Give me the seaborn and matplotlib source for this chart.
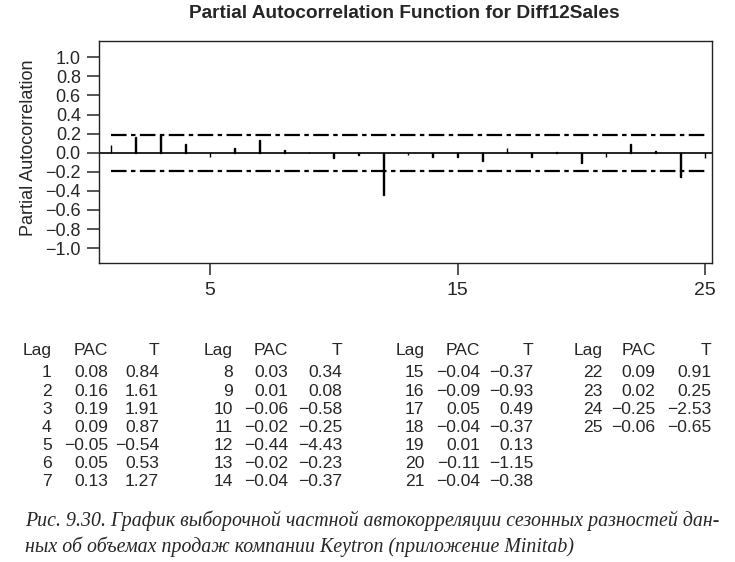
import numpy as np
import pandas as pd
import seaborn as sns
import matplotlib
matplotlib.use("Agg")
import matplotlib.pyplot as plt

lags = list(range(1, 26))
pac = [0.08, 0.16, 0.19, 0.09, -0.05, 0.05, 0.13, 0.03, 0.01, -0.06,
       -0.02, -0.44, -0.02, -0.04, -0.04, -0.09, 0.05, -0.04, 0.01, -0.11,
       -0.04, 0.09, 0.02, -0.25, -0.06]
t_vals = [0.84, 1.61, 1.91, 0.87, -0.54, 0.53, 1.27, 0.34, 0.08, -0.58,
          -0.25, -4.43, -0.23, -0.37, -0.37, -0.93, 0.49, -0.37, 0.13, -1.15,
          -0.38, 0.91, 0.25, -2.53, -0.65]
conf_limit = 0.19
y_ticks = [-1.0, -0.8, -0.6, -0.4, -0.2, 0.0, 0.2, 0.4, 0.6, 0.8, 1.0]
x_ticks = [5, 15, 25]

title = "Partial Autocorrelation Function for Diff12Sales"
ylabel = "Partial Autocorrelation"
caption = ["Рис. 9.30. График выборочной частной автокорреляции сезонных разностей дан-",
           "ных об объемах продаж компании Keytron (приложение Minitab)"]

sns.set_style("ticks")
plt.rcParams['font.family'] = ['Liberation Sans', 'DejaVu Sans']

W, H = 735, 562
fig = plt.figure(figsize=(W / 100, H / 100), dpi=100)

def fx(x):
    return x / W

def fy(y):
    return 1 - y / H

ax = fig.add_axes([fx(99), fy(263), fx(712) - fx(99), fy(41) - fy(263)])

df = pd.DataFrame({"Lag": lags, "PAC": pac})
sns.barplot(data=df, x="Lag", y="PAC", native_scale=True, width=0.03,
            color="black", saturation=1, errorbar=None,
            edgecolor="black", linewidth=1.0, ax=ax)

# confidence limits
ax.plot(lags, [conf_limit] * len(lags), color="black", lw=1.6,
        linestyle=(0, (7, 2, 2, 2)))
ax.plot(lags, [-conf_limit] * len(lags), color="black", lw=1.6,
        linestyle=(0, (7, 2, 2, 2)))
ax.axhline(0, color="black", lw=1.2)

ax.set_xlim(0.515, 25.28)
ax.set_ylim(-1.156, 1.171)
ax.set_xticks(x_ticks)
ax.set_yticks(y_ticks)
ax.set_yticklabels([f"{v:.1f}".replace("-", "\u2212") for v in y_ticks])
ax.set_xlabel("")
ax.set_ylabel("")
ax.tick_params(axis="both", labelsize=13, length=8.6, width=1.1, direction="out")
ax.tick_params(axis="x", labelsize=14, pad=5.0)
ax.tick_params(axis="y", pad=4.5)
for s in ax.spines.values():
    s.set_linewidth(1.0)
    s.set_color("#222222")

fig.text(fx(404), fy(14), title, ha="center", va="center",
         fontsize=13.8, fontweight="bold")
fig.text(fx(29), fy(148), ylabel, rotation=90, ha="center", va="center",
         fontsize=13)

# table of values under the chart
def fmt(v):
    return f"{v:.2f}".replace("-", "\u2212")

group_cols = [(51.7, 108, 159), (233, 288.3, 342.3),
              (424.3, 480, 533.3), (602.7, 655.7, 711.7)]
row_h = 18.2
fs = 12.6
for g, (cl, cp, ct) in enumerate(group_cols):
    fig.text(fx(cl), fy(355), "Lag", ha="right", va="baseline", fontsize=fs)
    fig.text(fx(cp), fy(355), "PAC", ha="right", va="baseline", fontsize=fs)
    fig.text(fx(ct), fy(355), "T", ha="right", va="baseline", fontsize=fs)
    for r, i in enumerate(range(g * 7, min(g * 7 + 7, len(lags)))):
        yb = 377.3 + r * row_h
        fig.text(fx(cl), fy(yb), str(lags[i]), ha="right", va="baseline", fontsize=fs)
        fig.text(fx(cp), fy(yb), fmt(pac[i]), ha="right", va="baseline", fontsize=fs)
        fig.text(fx(ct), fy(yb), fmt(t_vals[i]), ha="right", va="baseline", fontsize=fs)

for k, line in enumerate(caption):
    fig.text(fx(25), fy(526 + k * 26), line, ha="left", va="baseline",
             fontsize=14.3, family=["Liberation Serif", "DejaVu Serif"],
             style="italic")

fig.savefig("out.png", dpi=100)
